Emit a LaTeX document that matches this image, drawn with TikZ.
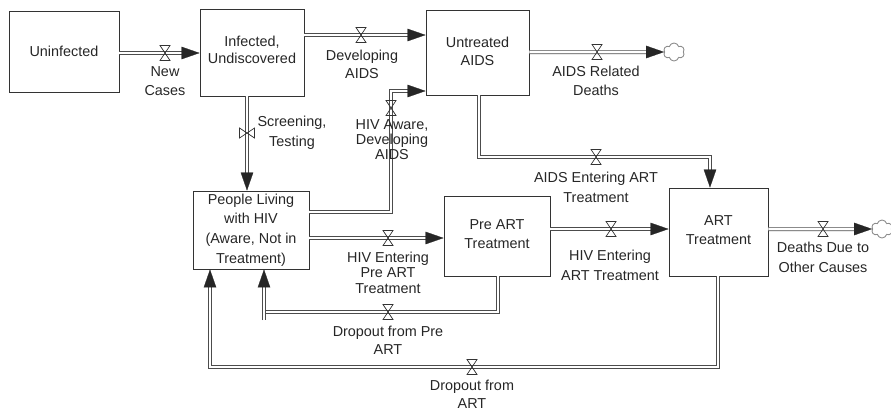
\documentclass[tikz,border=0pt]{standalone}
\usepackage{fontspec}
\setmainfont{Liberation Sans}
\usetikzlibrary{arrows.meta,shapes.symbols,calc}
\newcommand{\lblfont}[1]{\fontsize{14.4}{#1}\selectfont}
\newcommand{\sdflow}[1]{\draw[flow, shorten >=9pt] #1; \draw[tipline] #1;}
\tikzset{
  box/.style={draw=black!80, line width=0.9pt, align=center, inner sep=0pt, text=black!85},
  flow/.style={draw=black!70, line width=0.7pt, double=white, double distance=2.6pt},
  tipline/.style={draw=white, line width=0.2pt, -{Triangle[length=18pt,width=12.5pt,color=black!85,fill=black!85]}},
  valvestyle/.style={draw=black!80, line width=0.7pt, line join=miter},
  valveH/.pic={\draw[valvestyle] (-5,-7.5) -- (5,-7.5) -- (-5,7.5) -- (5,7.5) -- cycle;},
  valveV/.pic={\draw[valvestyle] (-7.5,-5) -- (-7.5,5) -- (7.5,-5) -- (7.5,5) -- cycle;},
  sink/.style={cloud, cloud puffs=6, cloud ignores aspect, draw=black!45, line width=0.9pt, minimum width=21pt, minimum height=18pt, inner sep=0pt},
  lbl/.style={align=center, inner sep=0pt, text=black!85}
}
\begin{document}
\begin{tikzpicture}[x=1pt, y=-1pt]
\useasboundingbox (0,0) rectangle (891,410);
\clip (0,0) rectangle (891,410);
% stocks
\node[box, minimum width=110pt, minimum height=81pt, font=\lblfont{18}] (unin) at (64,51.5) {Uninfected};
\node[box, minimum width=104pt, minimum height=87pt, font=\lblfont{17}] (inf) at (252,52.5) {Infected,\\Undiscovered\rule[-5pt]{0pt}{5pt}};
\node[box, minimum width=103pt, minimum height=85pt, font=\lblfont{18}] (unt) at (477.5,52.5) {Untreated\\AIDS\rule[-3pt]{0pt}{3pt}};
\node[box, minimum width=116pt, minimum height=78pt, font=\lblfont{19.6}] (plh) at (251,230) {People Living\\with HIV\\(Aware, Not in\\Treatment)};
\node[box, minimum width=106pt, minimum height=80pt, font=\lblfont{19}] (pre) at (497,236) {Pre ART\\Treatment\rule[-3pt]{0pt}{3pt}};
\node[box, minimum width=99pt, minimum height=88pt, font=\lblfont{19}] (art) at (718.5,232) {ART\\Treatment\rule[-3pt]{0pt}{3pt}};
% sinks
\node[sink] (cl1) at (674,52) {};
\node[sink] (cl2) at (882,229) {};
% valve positions and corners
\coordinate (vnc) at (165,53);
\coordinate (vdev) at (361,35);
\coordinate (vscr) at (247,133);
\coordinate (hwc) at (391,212);
\coordinate (hwt) at (391,91);
\coordinate (vhw) at (391,108);
\coordinate (vard) at (597,52);
\coordinate (aeaL) at (479,157);
\coordinate (aeaR) at (710,157);
\coordinate (vaea) at (596,157);
\coordinate (vhpa) at (388,238);
\coordinate (vhea) at (611,229);
\coordinate (vdd) at (823,229);
\coordinate (dpR) at (498,312);
\coordinate (dpL) at (266,312);
\coordinate (dpB) at (264,320);
\coordinate (vdp) at (388,312);
\coordinate (daR) at (718,367);
\coordinate (daL) at (210,367);
\coordinate (vda) at (472,367);
% flows
\sdflow{(unin.east |- vnc) -- (inf.west |- vnc)}
\sdflow{(inf.east |- vdev) -- (unt.west |- vdev)}
\sdflow{(inf.south -| vscr) -- (plh.north -| vscr)}
\sdflow{(plh.east |- hwc) -- (hwc) -- (hwt) -- (unt.west |- hwt)}
\sdflow{(unt.east |- vard) -- (cl1.west)}
\sdflow{(unt.south -| aeaL) -- (aeaL) -- (aeaR) -- (art.north -| aeaR)}
\sdflow{(plh.east |- vhpa) -- (pre.west |- vhpa)}
\sdflow{(pre.east |- vhea) -- (art.west |- vhea)}
\sdflow{(art.east |- vdd) -- (cl2.west)}
\draw[flow] (pre.south -| dpR) -- (dpR) -- (dpL);
\sdflow{(dpB) -- (plh.south -| dpB)}
\sdflow{(art.south -| daR) -- (daR) -- (daL) -- (plh.south -| daL)}
% valves
\pic at (vnc) {valveH};
\pic at (vdev) {valveH};
\pic at (vscr) {valveV};
\pic at (vhw) {valveH};
\pic at (vard) {valveH};
\pic at (vaea) {valveH};
\pic at (vhpa) {valveH};
\pic at (vhea) {valveH};
\pic at (vdd) {valveH};
\pic at (vdp) {valveH};
\pic at (vda) {valveH};
% labels
\node[lbl, font=\lblfont{19}] (lnc) at (165,81.5) {New\\Cases};
\node[lbl, font=\lblfont{18}] (ldev) at (362,64) {Developing\\AIDS};
\node[lbl, font=\lblfont{15}] (lhw) at (392,140) {HIV Aware,\\Developing\\AIDS};
\node[lbl, font=\lblfont{20}] (lscr) at (292,132.5) {Screening,\\Testing};
\node[lbl, font=\lblfont{19}] (lard) at (596,80.5) {AIDS Related\\Deaths};
\node[lbl, font=\lblfont{20}] (laea) at (596,187) {AIDS Entering ART\\Treatment};
\node[lbl, font=\lblfont{15.5}] (lhpa) at (388,272.5) {HIV Entering\\Pre ART\\Treatment};
\node[lbl, font=\lblfont{20}] (lhea) at (610,265) {HIV Entering\\ART Treatment};
\node[lbl, font=\lblfont{20}] (ldd) at (823,257) {Deaths Due to\\Other Causes};
\node[lbl, font=\lblfont{18}] (ldp) at (388,340) {Dropout from Pre\\ART};
\node[lbl, font=\lblfont{18}] (lda) at (472,394) {Dropout from\\ART};
\end{tikzpicture}
\end{document}
